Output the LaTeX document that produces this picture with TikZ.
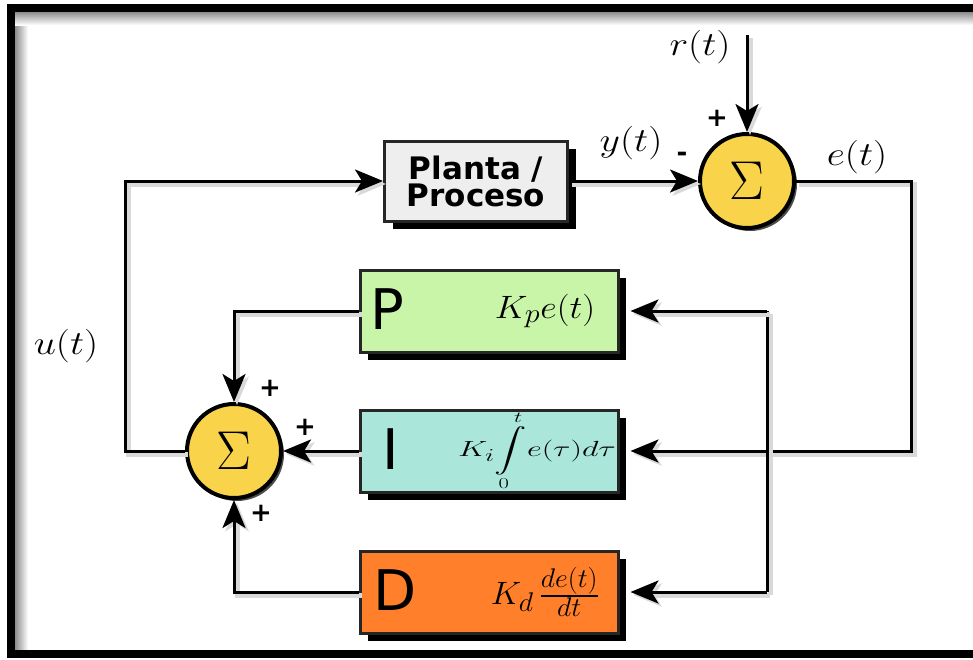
\documentclass[tikz,border=0pt]{standalone}
\usepackage{graphicx}
\usepackage{exscale}
\usepackage{fontspec}
\setsansfont{DejaVu Sans}
\usetikzlibrary{arrows.meta,shadows,calc}
\definecolor{plantafill}{HTML}{EEEEEE}
\definecolor{pfill}{HTML}{C9F5A8}
\definecolor{ifill}{HTML}{AAE6DA}
\definecolor{dfill}{HTML}{FF7F2A}
\definecolor{sumfill}{HTML}{F9D44A}
\newcommand{\bigmath}[3]{\scalebox{#1}[#2]{\fontsize{24.88}{30}\selectfont$#3$}}
\begin{document}
\begin{tikzpicture}[x=1pt,y=-1pt,
  conn/.style={line width=3pt, draw=black,
     preaction={draw=black!15, line width=5pt, transform canvas={shift={(3pt,-3pt)}}}},
  arr/.style={-{Stealth[length=28pt,width=23pt,inset=7pt]}},
  blockbox/.style={draw=black!85, line width=3pt, rectangle, inner sep=0pt,
     minimum width=258pt, minimum height=82pt,
     drop shadow={shadow xshift=8pt, shadow yshift=-8pt, fill=black, opacity=1}},
  sumnode/.style={draw=black, line width=4pt, circle, fill=sumfill, inner sep=0pt,
     minimum size=94pt,
     drop shadow={shadow xshift=3pt, shadow yshift=-3pt, fill=black, opacity=0.7}},
  lbl/.style={inner sep=0pt},
  sign/.style={font=\sffamily\bfseries\fontsize{26}{28}\selectfont, inner sep=0pt},
  letter/.style={font=\sffamily\fontsize{56}{58}\selectfont, inner sep=0pt},
  formula/.style={inner sep=0pt}
]
\useasboundingbox (0,0) rectangle (973,659);
% frame with inner shadow
\shade[left color=black!45, right color=white] (15,12) rectangle (28,654);
\shade[top color=black!45, bottom color=white] (15,12) rectangle (990,25);
\draw[line width=8pt] (990,8) -- (11,8) -- (11,654) -- (990,654);

% blocks
\node[blockbox, fill=plantafill, minimum width=183pt, minimum height=80pt,
      font=\sffamily\bfseries\fontsize{31}{27}\selectfont, align=center]
      (planta) at (476,181) {Planta /\\Proceso};
\node[blockbox, fill=pfill] (P) at (489,311) {};
\node[blockbox, fill=ifill] (I) at (489,451) {};
\node[blockbox, fill=dfill] (D) at (489,592) {};
\node[letter] (Pl) at (387,309) {P};
\node[letter] (Il) at (391,449) {I};
\node[letter] (Dl) at (395,590) {D};
\node[formula] (Pf) at (545,311) {\bigmath{1.45}{1.3}{K_{p}e(t)}};
\node[formula] (If) at (537,451) {\bigmath{1.3}{0.88}{K_{i}\!\displaystyle\int\limits_{\scriptscriptstyle 0}^{\scriptscriptstyle t}\! e(\tau)d\tau}};
\node[formula] (Df) at (545,592) {\bigmath{1.35}{1.3}{K_{d}\,\frac{de(t)}{dt}}};

% summing junctions
\node[sumnode] (sum1) at (747,181) {\bigmath{2.1}{2.2}{\Sigma}};
\node[sumnode] (sum2) at (234,451) {\bigmath{2.1}{2.2}{\Sigma}};

% labels
\node[lbl] (rt) at (700,47) {\bigmath{1.6}{1.35}{r(t)}};
\node[lbl] (yt) at (631,143) {\bigmath{1.6}{1.35}{y(t)}};
\node[lbl] (et) at (857,157) {\bigmath{1.6}{1.35}{e(t)}};
\node[lbl] (ut) at (66,346) {\bigmath{1.6}{1.35}{u(t)}};
\node[sign] (s1p) at (717,118) {+};
\node[sign] (s1m) at (682,157) {-};
\node[sign] (s2a) at (270,388) {+};
\node[sign] (s2b) at (305,427) {+};
\node[sign] (s2c) at (261,513) {+};

% coordinates
\coordinate (rin) at (747,35);
\coordinate (ecorner) at (911,181);
\coordinate (busP) at (767,311);
\coordinate (busD) at (767,592);
\coordinate (fb) at (125,451);

% connectors
\draw[conn,arr] (rin) -- (sum1.north);
\draw[conn,arr] (planta.east) -- (sum1.west);
\draw[conn,arr] (sum1.east) -- (ecorner) |- ($(I.east)+(11,0)$);
\draw[conn] (busP) -- (busD);
\draw[conn,arr] (busP) -- ($(P.east)+(11,0)$);
\draw[conn,arr] (busD) -- ($(D.east)+(11,0)$);
\draw[conn,arr] (P.west) -| (sum2.north);
\draw[conn,arr] (I.west) -- (sum2.east);
\draw[conn,arr] (D.west) -| (sum2.south);
\draw[conn,arr] (sum2.west) -- (fb) |- (planta.west);
\end{tikzpicture}
\end{document}
